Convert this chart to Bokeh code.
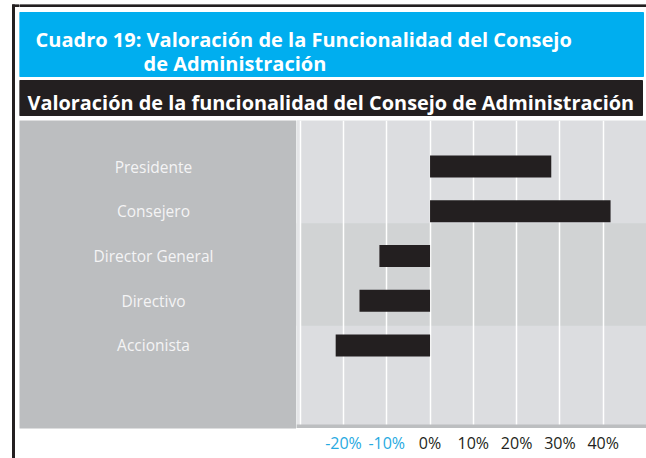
from bokeh.plotting import figure
from bokeh.layouts import row, column
from bokeh.models import Range1d, BoxAnnotation, Grid, FixedTicker, ColumnDataSource
from bokeh.core.properties import value
from bokeh.embed import file_html
from bokeh.resources import INLINE

# ---------------- data ----------------
categories = ["Presidente", "Consejero", "Director General", "Directivo", "Accionista"]
valoracion = [28.0, 41.7, -11.7, -16.3, -21.8]
tick_values = [-20, -10, 0, 10, 20, 30, 40]
tick_labels = ["-20%", "-10%", "0%", "10%", "20%", "30%", "40%"]
grid_values = [-30, -20, -10, 0, 10, 20, 30, 40]

title_line1 = "Cuadro 19: Valoración de la Funcionalidad del Consejo"
title_line2 = "de Administración"
subtitle = "Valoración de la funcionalidad del Consejo de Administración"

# ---------------- style ----------------
DARK = "#231f20"
BLUE = "#00aeef"
TICK_BLUE = "#27aae1"
PANEL = "#bcbec0"
BAND_LIGHT = "#dcdde0"
BAND_DARK = "#d1d3d4"
FONT = "Open Sans"

TOP = 4          # page y where the layout starts
LEFT = 8


def blank(w, h, xr, yr, **kw):
    f = figure(width=w, height=h, x_range=xr, y_range=yr, output_backend="svg",
               toolbar_location=None, tools="", x_axis_location=None, y_axis_location=None,
               min_border=0, outline_line_color=None, background_fill_color="white",
               border_fill_color="white", **kw)
    f.xgrid.visible = False
    f.ygrid.visible = False
    return f


# left edge (dark frame line)
edge = blank(19 - LEFT, 458 - TOP, Range1d(LEFT, 19), Range1d(458, TOP))
edge.quad(left=[12, 12], right=[14, 19], top=[4, 4], bottom=[458, 6], color=DARK)

# header
header = blank(646 - 19, 118 - TOP, Range1d(19, 646), Range1d(118, TOP))
header.quad(left=[19], right=[646], top=[4], bottom=[6], color=DARK)
header.quad(left=[19], right=[643], top=[12], bottom=[76], color=BLUE)
header.quad(left=[19], right=[642], top=[80], bottom=[115], color=DARK)
header.text(x=[35, 143], y=[39.3, 63.3], text=[title_line1, title_line2],
            text_font=value(FONT), text_font_style="bold", text_font_size="20px",
            text_color="white", text_baseline="alphabetic", text_align="left")
header.text(x=[27], y=[102], text=[subtitle],
            text_font=value(FONT), text_font_style="bold", text_font_size="19.9px",
            text_color="white", text_baseline="alphabetic", text_align="left")

# shared category axis (index 0 at top)
yr = Range1d(start=5.855, end=-1.028)
xr = Range1d(start=-30.85, end=50.0)
idx = list(range(len(categories)))

# left panel with category names
left = blank(296 - 19, 338, Range1d(19, 296), yr, min_border_top=2, min_border_bottom=28)
left.background_fill_color = PANEL
left.text(x=[153] * len(categories), y=idx, text=categories, text_font=value(FONT),
          text_font_size="15.5px", text_color="#f4f4f5", text_align="center",
          text_baseline="middle")

# main plot
main = blank(350, 310, xr, yr, min_border_top=2)
main.background_fill_color = BAND_LIGHT
span = yr.start - yr.end
b1 = yr.end + span / 3
b2 = yr.end + 2 * span / 3
main.add_layout(BoxAnnotation(top=b1, bottom=b2, fill_color=BAND_DARK, fill_alpha=1,
                              line_alpha=0, level="image"))
main.add_layout(BoxAnnotation(right=-30, fill_color="#e4e5e7", fill_alpha=1,
                              line_alpha=0, level="image"))
main.add_layout(Grid(dimension=0, ticker=FixedTicker(ticks=grid_values),
                     grid_line_color="white", grid_line_width=1.5))
main.add_layout(BoxAnnotation(bottom=yr.start, top=yr.start - 4 / 44.75, fill_color=PANEL,
                              fill_alpha=1, line_alpha=0))
src = ColumnDataSource(dict(y=idx, right=valoracion, cat=categories))
main.hbar(y="y", left=0, right="right", height=0.49, source=src, fill_color=DARK,
          line_color=None)

# tick labels
ticks = blank(350, 28, xr, Range1d(456, 428))
tick_colors = [TICK_BLUE if v < 0 else DARK for v in tick_values]
ticks.text(x=tick_values, y=[442.5] * len(tick_values), text=tick_labels,
           text_color=tick_colors, text_font=value(FONT), text_font_size="16px",
           text_align="center", text_baseline="middle")

# bottom rule
bottom = blank(646 - 19, 2, Range1d(19, 646), Range1d(458, 456))
bottom.background_fill_color = "#c7c8ca"

root = row(edge, column(header, row(left, column(main, ticks)), bottom))
root.margin = (TOP, 0, 0, LEFT)

open("out.html", "w").write(file_html(root, INLINE))
